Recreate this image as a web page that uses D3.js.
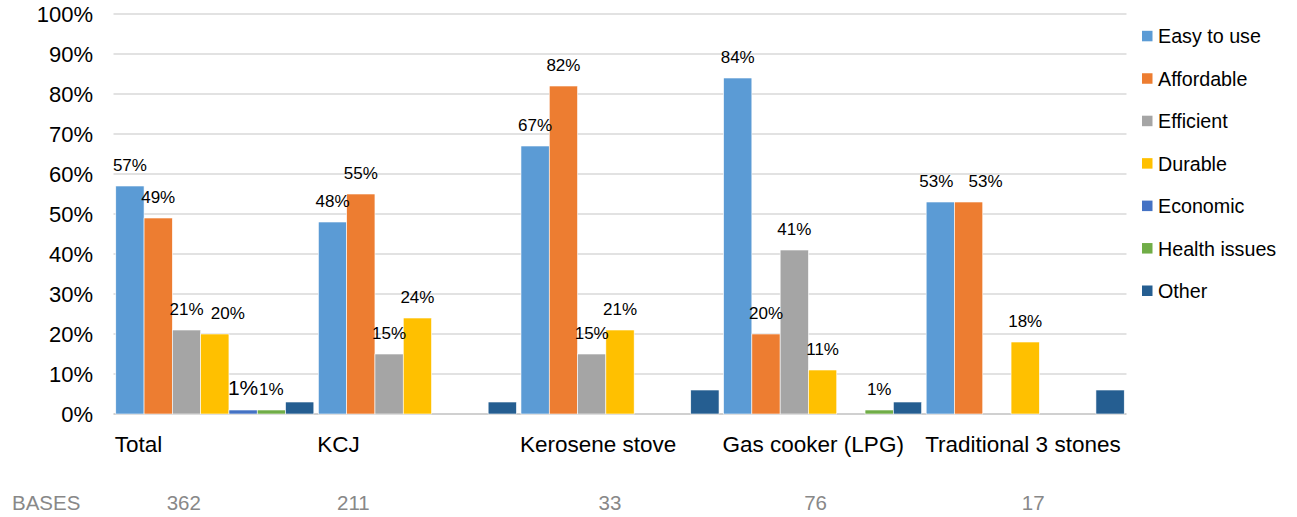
<!DOCTYPE html>
<html>
<head>
<meta charset="utf-8">
<script src="https://cdn.jsdelivr.net/npm/d3@7/dist/d3.min.js"></script>
<style>
  html, body { margin: 0; padding: 0; background: #fff; }
  svg { display: block; font-family: "Liberation Sans", Arial, sans-serif; }
</style>
</head>
<body>
<svg id="chart" width="1297" height="517"></svg>
<script>
// ---------- data ----------
const categories = ["Total", "KCJ", "Kerosene stove", "Gas cooker (LPG)", "Traditional 3 stones"];
const seriesNames = ["Easy to use", "Affordable", "Efficient", "Durable", "Economic", "Health issues", "Other"];
const easyToUse    = [57, 48, 67, 84, 53];
const affordable   = [49, 55, 82, 20, 53];
const efficient    = [21, 15, 15, 41, 0];
const durable      = [20, 24, 21, 11, 18];
const economic     = [1, 0, 0, 0, 0];
const healthIssues = [1, 0, 0, 1, 0];
const other        = [3, 3, 6, 3, 6];
const bases = [362, 211, 33, 76, 17];
const yTicks = [0, 10, 20, 30, 40, 50, 60, 70, 80, 90, 100];
const basesLabel = "BASES";

// ---------- styles / layout ----------
const colors = ["#5B9BD5", "#ED7D31", "#A5A5A5", "#FFC000", "#4472C4", "#70AD47", "#255E91"];
const showLabels = [true, true, true, true, true, true, false];
// manual label nudges (series index-category index) -> [dx, fontSize]
const labelNudges = { "3-0": [13, 17], "4-0": [0, 21], "0-4": [-4, 17], "1-4": [17, 17] };
const basesNudge = [-31, -64, -10, -7, 8];

const values = [easyToUse, affordable, efficient, durable, economic, healthIssues, other];

const svg = d3.select("#chart");
const plot = { left: 113.5, right: 1126.5, top: 14, bottom: 414 };

const x0 = d3.scaleBand().domain(categories).range([plot.left, plot.right]).padding(0);
const x1 = d3.scaleBand().domain(seriesNames).range([0, x0.bandwidth()]).paddingInner(0).paddingOuter(0.08);
const y = d3.scaleLinear().domain([0, 100]).range([plot.bottom, plot.top]);

// gridlines
svg.append("g").selectAll("line").data(yTicks).join("line")
  .attr("x1", plot.left).attr("x2", plot.right)
  .attr("y1", d => y(d)).attr("y2", d => y(d))
  .attr("stroke", d => d === 0 ? "#d0d0d0" : "#d9d9d9")
  .attr("stroke-width", d => d === 0 ? 2 : 1.4);

// y axis labels
const yAxis = d3.axisLeft(y).tickValues(yTicks).tickFormat(d => d + "%").tickSize(0).tickPadding(0);
const yg = svg.append("g").attr("transform", `translate(93,0)`).call(yAxis);
yg.select(".domain").remove();
yg.selectAll("text").attr("font-size", 22).attr("fill", "#000")
  .attr("font-family", "'Liberation Sans', Arial, sans-serif").attr("dy", "0.36em");

// bars
const barData = [];
values.forEach((arr, si) => arr.forEach((v, ci) => barData.push({ si, ci, v })));

svg.append("g").selectAll("rect").data(barData.filter(d => d.v > 0)).join("rect")
  .attr("x", d => x0(categories[d.ci]) + x1(seriesNames[d.si]))
  .attr("width", x1.bandwidth())
  .attr("y", d => y(d.v))
  .attr("height", d => y(0) - y(d.v))
  .attr("fill", d => colors[d.si])
  .attr("stroke", "#ffffff").attr("stroke-width", 0.6);

// data labels
svg.append("g").selectAll("text").data(barData.filter(d => d.v > 0 && showLabels[d.si])).join("text")
  .attr("x", d => {
    const n = labelNudges[d.si + "-" + d.ci];
    return x0(categories[d.ci]) + x1(seriesNames[d.si]) + x1.bandwidth() / 2 + (n ? n[0] : 0);
  })
  .attr("y", d => y(d.v) - 15)
  .attr("text-anchor", "middle")
  .attr("font-size", d => { const n = labelNudges[d.si + "-" + d.ci]; return n ? n[1] : 17; })
  .attr("fill", "#000")
  .text(d => d.v + "%");

// category labels
svg.append("g").selectAll("text").data(categories).join("text")
  .attr("x", d => x0(d) + x1(seriesNames[0]) - 1)
  .attr("y", 452)
  .attr("font-size", 22.5)
  .attr("fill", "#000")
  .text(d => d);

// bases row
svg.append("text").attr("x", 12).attr("y", 510).attr("font-size", 20.5).attr("fill", "#888888").text(basesLabel);
svg.append("g").selectAll("text").data(bases).join("text")
  .attr("x", (d, i) => x0(categories[i]) + x0.bandwidth() / 2 + basesNudge[i])
  .attr("y", 510)
  .attr("text-anchor", "middle")
  .attr("font-size", 20.5)
  .attr("fill", "#888888")
  .text(d => d);

// legend
const legend = svg.append("g").attr("transform", "translate(1142,0)");
const ly = d3.scalePoint().domain(seriesNames).range([43.3, 298]);
const li = legend.selectAll("g").data(seriesNames).join("g")
  .attr("transform", d => `translate(0,${ly(d)})`);
li.append("rect").attr("x", 0).attr("y", -12.5).attr("width", 10.5).attr("height", 10.5)
  .attr("fill", (d, i) => colors[i]);
li.append("text").attr("x", 16).attr("y", 0).attr("font-size", 19.7).attr("fill", "#000").text(d => d);
</script>
</body>
</html>
